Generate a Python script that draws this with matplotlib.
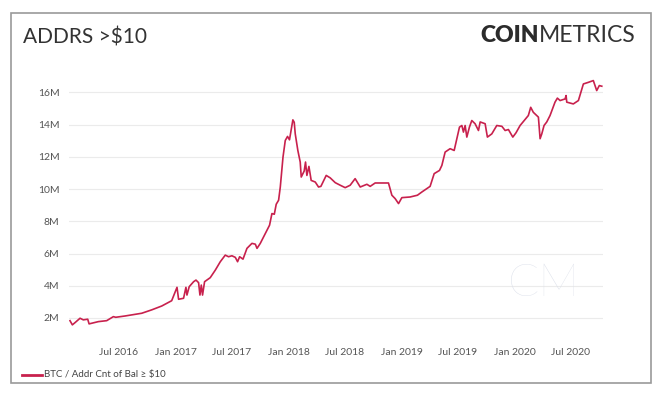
import pandas as pd
import numpy as np
import matplotlib.pyplot as plt
import matplotlib.dates as mdates
from matplotlib.patches import Rectangle

plt.rcParams['font.family'] = ['Lato', 'DejaVu Sans']

# data: time in decimal years, values in millions
years = [2016.066, 2016.087, 2016.111, 2016.155, 2016.184, 2016.223, 2016.235, 2016.317,
         2016.391, 2016.450, 2016.471, 2016.553, 2016.701, 2016.789, 2016.878, 2016.966,
         2017.011, 2017.025, 2017.069, 2017.090, 2017.099, 2017.119, 2017.158, 2017.179,
         2017.202, 2017.214, 2017.226, 2017.237, 2017.255, 2017.305, 2017.350, 2017.394,
         2017.438, 2017.467, 2017.497, 2017.527, 2017.547, 2017.565, 2017.595, 2017.630,
         2017.674, 2017.704, 2017.719, 2017.748, 2017.792, 2017.830, 2017.851, 2017.872,
         2017.889, 2017.910, 2017.925, 2017.949, 2017.969, 2017.989, 2018.007, 2018.037,
         2018.049, 2018.058, 2018.081, 2018.102, 2018.111, 2018.137, 2018.149, 2018.161,
         2018.179, 2018.199, 2018.235, 2018.264, 2018.285, 2018.332, 2018.367, 2018.412,
         2018.456, 2018.500, 2018.544, 2018.588, 2018.633, 2018.692, 2018.721, 2018.765,
         2018.883, 2018.913, 2018.942, 2018.972, 2019.002, 2019.075, 2019.140, 2019.179,
         2019.252, 2019.288, 2019.335, 2019.356, 2019.385, 2019.429, 2019.465, 2019.482,
         2019.512, 2019.533, 2019.547, 2019.562, 2019.577, 2019.600, 2019.621, 2019.650,
         2019.680, 2019.695, 2019.739, 2019.759, 2019.798, 2019.842, 2019.887, 2019.916,
         2019.945, 2019.984, 2020.013, 2020.049, 2020.093, 2020.122, 2020.143, 2020.166,
         2020.196, 2020.211, 2020.226, 2020.241, 2020.261, 2020.285, 2020.314, 2020.358,
         2020.379, 2020.403, 2020.447, 2020.456, 2020.462, 2020.520, 2020.565, 2020.609,
         2020.653, 2020.697, 2020.727, 2020.750, 2020.772]
addrs = [1.83, 1.57, 1.71, 1.98, 1.88, 1.92, 1.63, 1.77,
         1.83, 2.08, 2.04, 2.12, 2.29, 2.50, 2.74, 3.07,
         3.90, 3.16, 3.22, 3.90, 3.42, 3.94, 4.25, 4.35,
         4.19, 3.42, 4.04, 3.42, 4.25, 4.50, 4.97, 5.49,
         5.90, 5.80, 5.86, 5.76, 5.49, 5.80, 5.65, 6.32,
         6.63, 6.58, 6.32, 6.63, 7.24, 7.76, 8.48, 8.44,
         9.06, 9.31, 10.13, 11.99, 13.02, 13.27, 13.06, 14.30,
         14.15, 13.43, 12.40, 11.68, 10.75, 11.12, 11.68, 10.85,
         11.41, 10.54, 10.44, 10.13, 10.17, 10.85, 10.70, 10.40,
         10.24, 10.09, 10.24, 10.65, 10.13, 10.30, 10.17, 10.38,
         10.38, 9.62, 9.41, 9.10, 9.47, 9.51, 9.62, 9.82,
         10.17, 10.96, 11.16, 11.47, 12.30, 12.51, 12.40, 12.92,
         13.85, 13.95, 13.54, 13.95, 13.23, 13.85, 14.26, 14.06,
         13.64, 14.17, 14.06, 13.23, 13.43, 13.95, 13.90, 13.64,
         13.70, 13.23, 13.50, 13.95, 14.32, 14.57, 15.08, 14.77,
         14.57, 14.47, 13.13, 13.43, 13.95, 14.17, 14.57, 15.40,
         15.65, 15.50, 15.60, 15.81, 15.40, 15.29, 15.50, 16.53,
         16.63, 16.74, 16.12, 16.43, 16.39]
y_ticks = [2, 4, 6, 8, 10, 12, 14, 16]


def to_date(y):
    return pd.Timestamp(int(y), 1, 1) + pd.to_timedelta((y % 1) * 365.25, unit='D')


df = pd.DataFrame({'date': [to_date(y) for y in years], 'addrs': addrs})

fig = plt.figure(figsize=(6.6, 4.04), dpi=100)
fig.patches.append(Rectangle((11/660, 1-383/404), 640/660, 370/404, transform=fig.transFigure,
                             fill=False, edgecolor='#9a9a9a', linewidth=1.2))

ax = fig.add_axes([69.3/660, 1-330/404, 533.4/660, 252/404])
ax.plot(df['date'], df['addrs'], color='#c8214d', linewidth=1.2)

ax.set_ylim(1.25, 16.9)
ax.set_xlim(to_date(2016.06), to_date(2020.78))
ax.set_yticks(y_ticks)
ax.set_yticklabels([f'{v}M' for v in y_ticks])
ax.xaxis.set_major_locator(mdates.MonthLocator(bymonth=[1, 7]))
ax.xaxis.set_major_formatter(mdates.DateFormatter('%b %Y'))
ax.set_xticks([t for t in ax.get_xticks() if t > mdates.date2num(pd.Timestamp('2016-03-01'))])
ax.tick_params(length=0, labelsize=7.5, labelcolor='#555555')
ax.tick_params(axis='x', pad=13)
ax.tick_params(axis='y', pad=7)
ax.grid(axis='y', color='#ebebeb', linewidth=0.8)
for s in ax.spines.values():
    s.set_visible(False)

# watermark
fig.text(544/660, 1-283/404, 'CM', fontsize=33, fontweight='light', color='#dce0ea',
         ha='center', va='center', zorder=0)

fig.text(23/660, 1-38/404, 'ADDRS >$10', fontsize=15, color='#333333', va='center')
fig.text(539/660, 1-36/404, 'METRICS', fontsize=16.5, color='#333333',
         va='center', ha='left')
fig.text(539/660, 1-36/404, 'COIN', fontsize=16.5, fontweight='heavy', color='#2b2b2b',
         va='center', ha='right')

fig.lines.append(plt.Line2D([22/660, 42/660], [1-375/404, 1-375/404], transform=fig.transFigure,
                            color='#c8214d', linewidth=2))
fig.text(44/660, 1-375/404, 'BTC / Addr Cnt of Bal ≥ $10', fontsize=7, color='#444444', va='center')

fig.savefig('out.png', dpi=100)
